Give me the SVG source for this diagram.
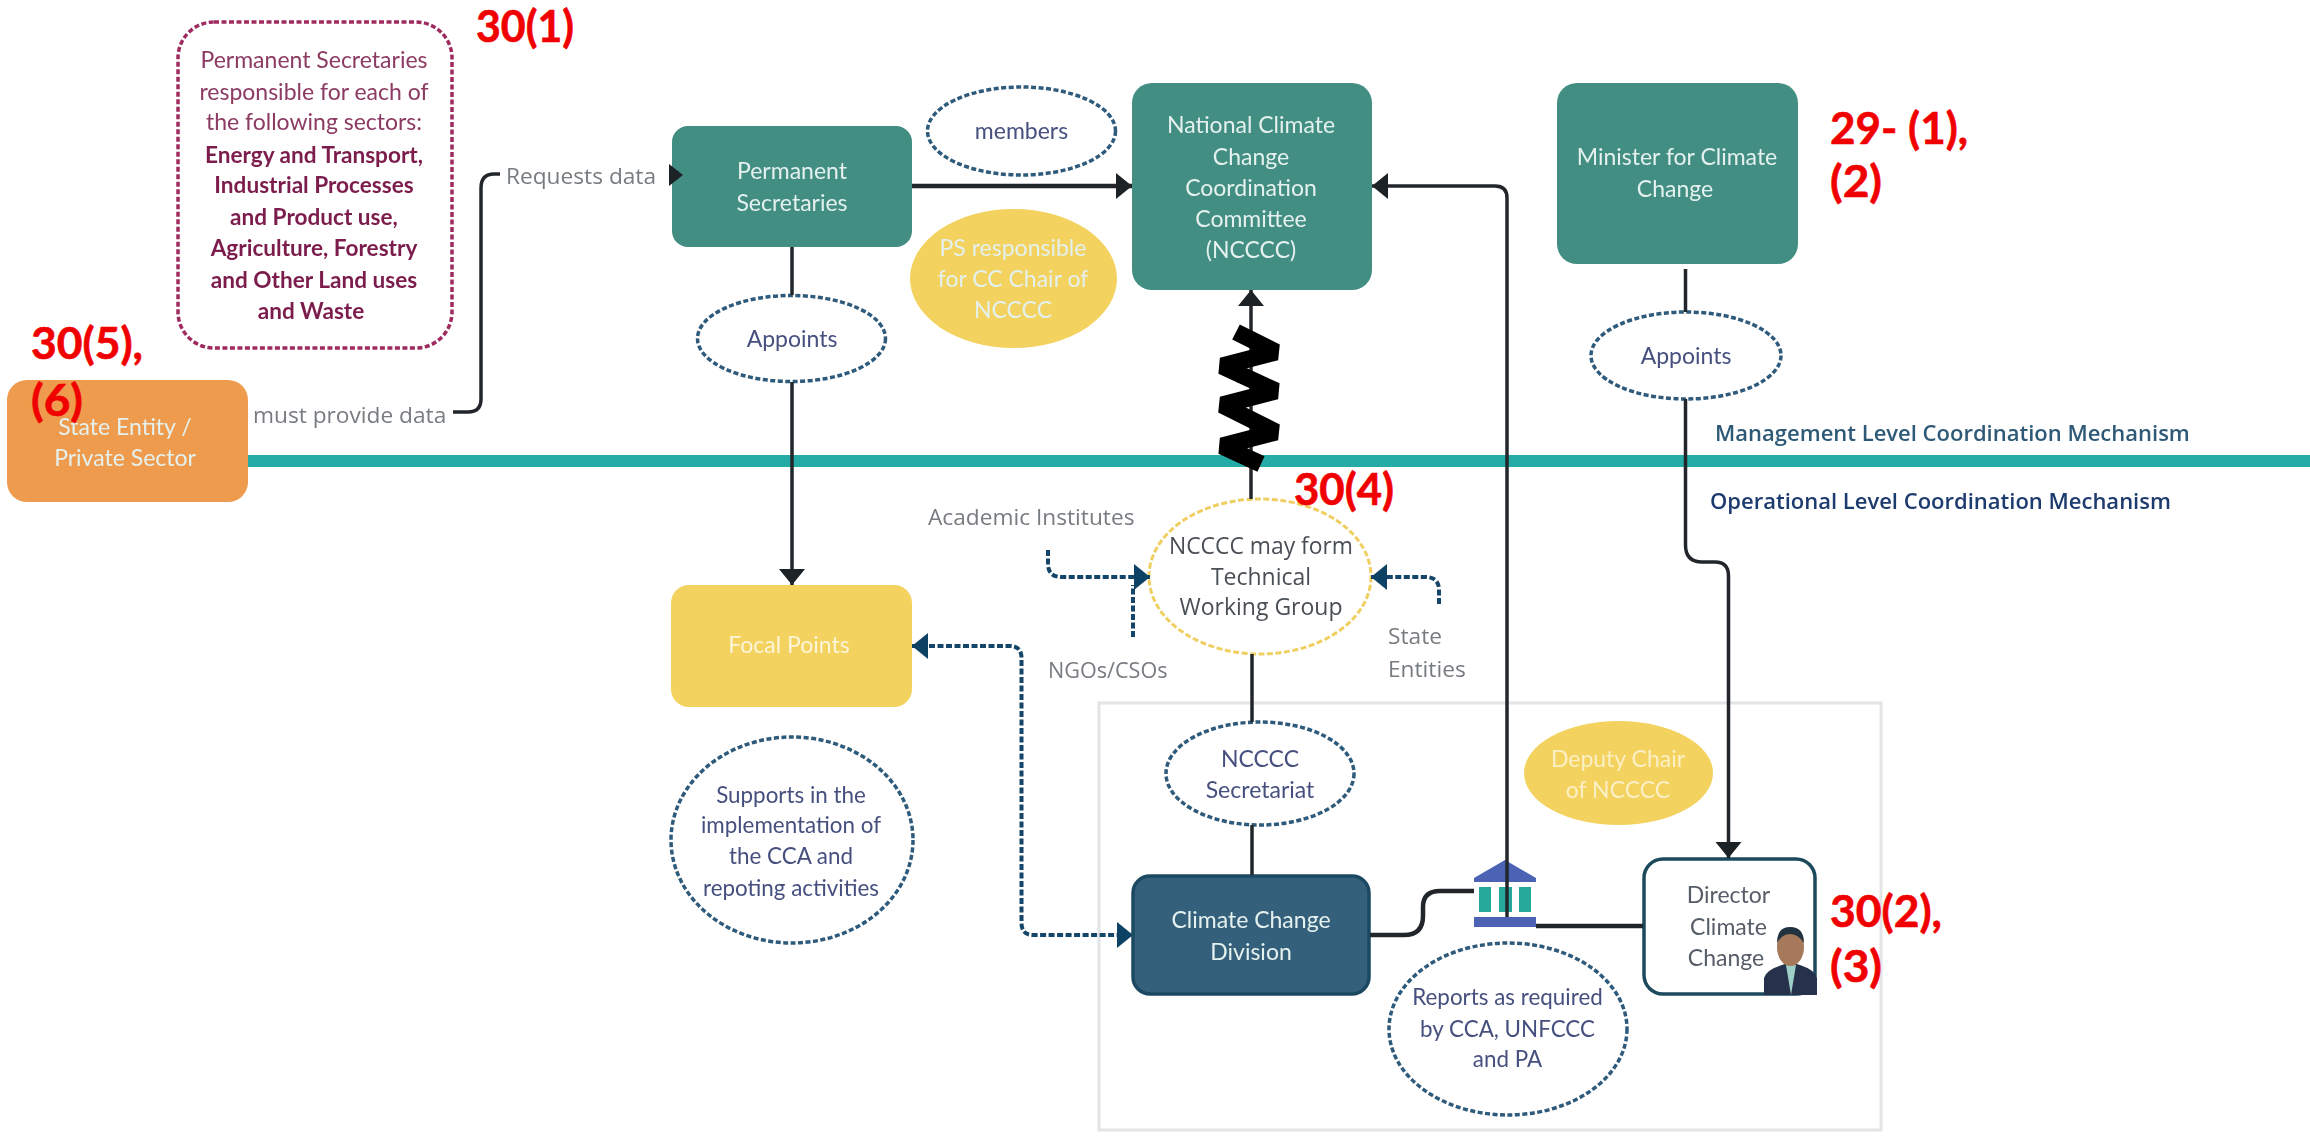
<svg xmlns="http://www.w3.org/2000/svg" width="2310" height="1138" viewBox="0 0 2310 1138">
<style>
text{font-family:"Lato","Open Sans","Liberation Sans",sans-serif;font-size:23px;text-anchor:middle}
.w{fill:#e4f1ee}.n{fill:#46507f}.m{fill:#8c3a62}.mb{fill:#7c1f4e;font-weight:700;font-size:22.6px}.d{fill:#4a4f55;font-family:"Open Sans","Liberation Sans",sans-serif;font-size:23px}.s{font-size:22.4px}.gr{fill:#565d68}
.g{font-family:"Open Sans","Liberation Sans",sans-serif;font-size:22.7px;fill:#777b80;text-anchor:start}
.lv{font-family:"Open Sans","Liberation Sans",sans-serif;font-size:22px;font-weight:600;text-anchor:start}
.r{font-family:"Lato","Liberation Sans",sans-serif;font-size:44px;font-weight:700;fill:#f00000;text-anchor:start;stroke:#f00000;stroke-width:.6}
.t{fill:#438e82}.y{fill:#f3d25e}
.de{fill:#fff;stroke:#2f5a7c;stroke-width:3.5;stroke-dasharray:5 2.5}
.c{fill:none;stroke:#22282c;stroke-width:3.5;stroke-linejoin:round}
.dc{fill:none;stroke:#12456a;stroke-width:4;stroke-dasharray:6 2.5}
</style>
<defs>
<filter id="soft" x="-2%" y="-2%" width="104%" height="104%"><feGaussianBlur stdDeviation="0.7"/></filter>
<marker id="a" markerUnits="userSpaceOnUse" markerWidth="18" markerHeight="28" refX="16" refY="13" orient="auto"><path d="M0 0L16 13L0 26z" fill="#1c2226"/></marker>
<marker id="b" markerUnits="userSpaceOnUse" markerWidth="18" markerHeight="28" refX="16" refY="13" orient="auto"><path d="M0 0L16 13L0 26z" fill="#0e4265"/></marker>
<marker id="bs" markerUnits="userSpaceOnUse" markerWidth="18" markerHeight="28" refX="0" refY="13" orient="auto"><path d="M16 0L0 13L16 26z" fill="#0e4265"/></marker>
</defs>
<rect width="2310" height="1138" fill="#fff"/>
<g filter="url(#soft)">
<g id="operational-frame"><rect x="1099" y="703" width="782" height="427" fill="#fff" stroke="#e2e4e6" stroke-width="3"/></g>
<g id="level-divider"><rect x="240" y="455" width="2070" height="12" fill="#26aca6"/></g>

<g id="sectors-note"><rect x="178" y="22" width="274" height="326" rx="36" fill="#fff" stroke="#9e2c60" stroke-width="3.500" stroke-dasharray="5 2.500"/>
<text class="m" x="314" y="68">Permanent Secretaries</text><text class="m" x="314" y="100">responsible for each of</text><text class="m" x="314" y="130">the following sectors:</text>
<text class="mb" x="314" y="162.500">Energy and Transport,</text><text class="mb" x="314" y="193">Industrial Processes</text><text class="mb" x="314" y="225">and Product use,</text><text class="mb" x="314" y="256">Agriculture, Forestry</text><text class="mb" x="314" y="287.500">and Other Land uses</text><text class="mb" x="311" y="318.500">and Waste</text></g>

<g id="state-entity"><rect x="7" y="380" width="241" height="122" rx="20" fill="#ee9b4d"/><text class="w" x="125" y="435">State Entity /</text><text class="w" x="125" y="466">Private Sector</text></g>
<g id="permanent-secretaries"><rect class="t" x="672" y="126" width="240" height="121" rx="16"/><text class="w" x="792" y="178.600">Permanent</text><text class="w" x="792" y="210.700">Secretaries</text></g>
<g id="appoints-1"><ellipse class="de" cx="791.500" cy="338.500" rx="94" ry="43"/><text class="n" x="792" y="347">Appoints</text></g>
<g id="members"><ellipse class="de" cx="1021.500" cy="131" rx="94" ry="44"/><text class="n" x="1021.500" y="139">members</text></g>
<g id="ps-chair"><ellipse class="y" cx="1013.500" cy="278.500" rx="103.500" ry="69.500"/><text class="w" x="1013" y="256">PS responsible</text><text class="w" x="1013" y="287">for CC Chair of</text><text class="w" x="1013" y="318">NCCCC</text></g>
<g id="ncccc"><rect class="t" x="1132" y="83" width="240" height="207" rx="20"/><text class="w" x="1251" y="133">National Climate</text><text class="w" x="1251" y="165">Change</text><text class="w" x="1251" y="195.500">Coordination</text><text class="w" x="1251" y="227">Committee</text><text class="w" x="1251" y="257.600">(NCCCC)</text></g>
<g id="minister"><rect class="t" x="1557" y="83" width="241" height="181" rx="20"/><text class="w" x="1677" y="165">Minister for Climate</text><text class="w" x="1675" y="197">Change</text></g>
<g id="appoints-2"><ellipse class="de" cx="1686" cy="355.500" rx="95" ry="43.500"/><text class="n" x="1686" y="364">Appoints</text></g>
<g id="twg"><ellipse cx="1260" cy="576.500" rx="111" ry="77.500" fill="#fff" stroke="#f0cf62" stroke-width="3" stroke-dasharray="6 2.500"/><text class="d" x="1261" y="554" textLength="184" lengthAdjust="spacingAndGlyphs">NCCCC may form</text><text class="d" x="1261" y="585">Technical</text><text class="d" x="1261" y="615">Working Group</text></g>
<g id="focal-points"><rect class="y" x="671" y="585" width="241" height="122" rx="18"/><text fill="#fdf5d8" x="789" y="653">Focal Points</text></g>
<g id="supports"><ellipse class="de" cx="792" cy="840" rx="121" ry="103"/><text class="n s" x="791" y="803">Supports in the</text><text class="n s" x="791" y="833">implementation of</text><text class="n s" x="791" y="864">the CCA and</text><text class="n s" x="791" y="896">repoting activities</text></g>
<g id="secretariat"><ellipse class="de" cx="1260" cy="773.500" rx="94" ry="51.500"/><text class="n" x="1260" y="767">NCCCC</text><text class="n" x="1260" y="798">Secretariat</text></g>
<g id="deputy-chair"><ellipse class="y" cx="1618.500" cy="773" rx="94.500" ry="52"/><text fill="#fbf0c5" x="1618" y="767">Deputy Chair</text><text fill="#fbf0c5" x="1618" y="798">of NCCCC</text></g>
<g id="ccd"><rect x="1133" y="876" width="236" height="118" rx="17" fill="#35607b" stroke="#1d4a62" stroke-width="3.500"/><text class="w" x="1251" y="928">Climate Change</text><text class="w" x="1251" y="960">Division</text></g>
<g id="reports"><ellipse class="de" cx="1508" cy="1029" rx="119" ry="86"/><text class="n s" x="1507.500" y="1005">Reports as required</text><text class="n s" x="1507.500" y="1037">by CCA, UNFCCC</text><text class="n s" x="1507.500" y="1067">and PA</text></g>
<g id="bank-icon">
<path d="M1505 860L1536 878V882H1474V878z" fill="#4b62b5"/>
<rect x="1479" y="887" width="12" height="25" fill="#27a99b"/><rect x="1499" y="887" width="13" height="25" fill="#27a99b"/><rect x="1519" y="887" width="12" height="25" fill="#27a99b"/>
<rect x="1474" y="917" width="62" height="10" fill="#4b62b5"/>
</g>
<g id="director"><rect x="1644" y="859" width="171" height="135" rx="19" fill="#fff" stroke="#1d4a5c" stroke-width="3.500"/>
<text class="gr" x="1728.500" y="903">Director</text><text class="gr" x="1728.500" y="935">Climate</text><text class="gr" x="1726" y="966">Change</text>
<path d="M1764 995V978Q1766 970 1782 965L1790 962L1800 965Q1815 970 1817 978V995z" fill="#27314c"/><path d="M1786 965L1791 995L1796 965z" fill="#9fd0c8"/>
<ellipse cx="1790.500" cy="947" rx="13.500" ry="19" fill="#a6795a"/><path d="M1777 943Q1777 927 1790 927Q1804 927 1804 943Q1798 934 1790 934Q1782 934 1777 943z" fill="#22303f"/>
</g>

<g id="connectors">
<path class="c" d="M792 247V295M792 382V585" marker-end="url(#a)"/>
<path class="c" style="stroke-width:4.500" d="M912 186H1132" marker-end="url(#a)"/>
<path class="c" d="M1251 499V290" marker-end="url(#a)"/>
<path d="M1236 332L1276 352L1222 366L1276 391L1222 405L1276 432L1222 446L1261 464" fill="none" stroke="#000" stroke-width="17" stroke-linejoin="bevel" stroke-linecap="butt"/>
<path class="c" d="M1507 917V198Q1507 186 1495 186H1372" marker-end="url(#a)"/>
<path class="c" d="M1685.500 269V312M1685.500 399V545Q1685.500 562 1702 562H1715Q1728.500 562 1728.500 576V858" marker-end="url(#a)"/>
<path class="c" d="M1252 654V722M1252 825V875"/>
<path class="c" style="stroke-width:4.500" d="M1370 935H1404Q1423 935 1423 916V907Q1423 891 1440 891H1474"/>
<path class="c" style="stroke-width:4.500" d="M1536 926H1643"/>
<path class="c" d="M453 412H468Q481 412 481 399V188Q481 174 494 174H500"/>
<path fill="#1c2226" d="M669 164L683 175L669 186z"/>
<path class="dc" d="M912 646H1010Q1021.500 646 1021.500 658V923Q1021.500 935 1033 935H1133" marker-start="url(#bs)" marker-end="url(#b)"/>
<path class="dc" d="M1048 550V564Q1048 577 1062 577H1150" marker-end="url(#b)"/>
<path class="dc" d="M1133 637V585"/>
<path class="dc" d="M1439 604V590Q1439 577 1425 577H1371" marker-end="url(#b)"/>
</g>

<g id="edge-labels">
<text class="g" x="253" y="423">must provide data</text>
<text class="g" x="506" y="184">Requests data</text>
<text class="g" x="928" y="524.500">Academic Institutes</text>
<text class="g" style="font-size:21.6px" x="1048" y="678">NGOs/CSOs</text>
<text class="g" x="1388" y="644">State</text>
<text class="g" x="1388" y="677">Entities</text>
<text class="lv" fill="#2e5a78" x="1715" y="441">Management Level Coordination Mechanism</text>
<text class="lv" fill="#1f3a6e" x="1710" y="509">Operational Level Coordination Mechanism</text>
</g>
</g>
<g id="section-refs">
<text class="r" x="476" y="42" textLength="98" lengthAdjust="spacingAndGlyphs">30(1)</text>
<text class="r" x="31" y="359" textLength="112" lengthAdjust="spacingAndGlyphs">30(5),</text><text class="r" x="31" y="416" textLength="52" lengthAdjust="spacingAndGlyphs">(6)</text>
<text class="r" x="1830" y="144" textLength="138" lengthAdjust="spacingAndGlyphs">29- (1),</text><text class="r" x="1830" y="197" textLength="52" lengthAdjust="spacingAndGlyphs">(2)</text>
<text class="r" x="1294" y="505" textLength="100" lengthAdjust="spacingAndGlyphs">30(4)</text>
<text class="r" x="1830" y="927" textLength="112" lengthAdjust="spacingAndGlyphs">30(2),</text><text class="r" x="1830" y="982" textLength="52" lengthAdjust="spacingAndGlyphs">(3)</text>
</g>
</svg>
